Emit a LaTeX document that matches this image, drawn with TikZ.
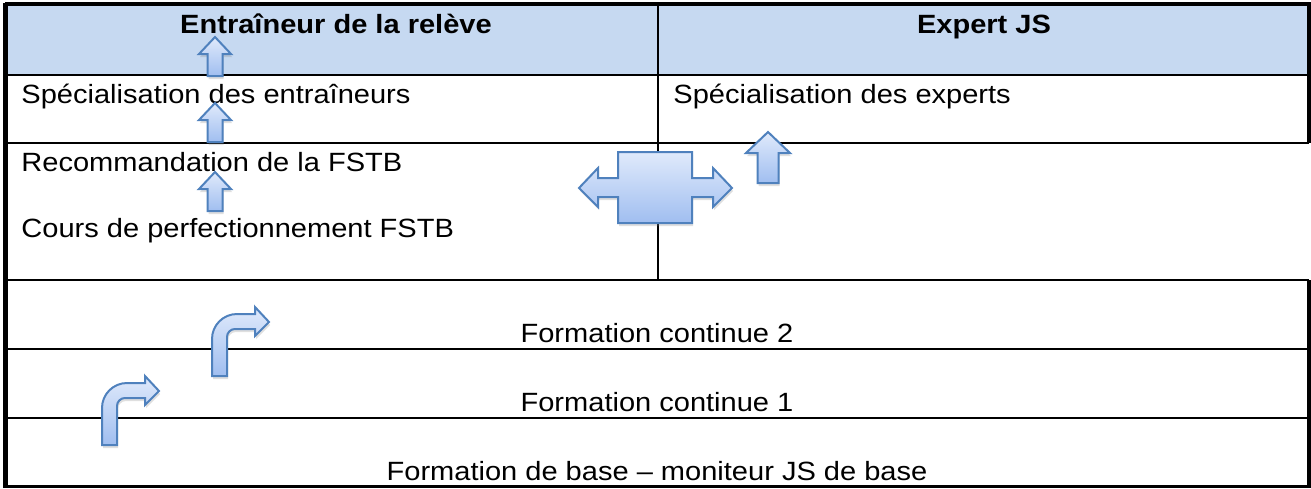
\documentclass[tikz,border=0pt]{standalone}
\usepackage{fontspec}
\setmainfont{Liberation Sans}
\usetikzlibrary{shadows}
\definecolor{headblue}{RGB}{198,217,241}
\definecolor{arrowline}{RGB}{79,129,189}
\definecolor{arrowtop}{RGB}{224,234,251}
\definecolor{arrowbot}{RGB}{160,190,240}

\begin{document}
\begin{tikzpicture}[x=0.5pt, y=-0.5pt,
            innerline/.style={line width=1.2pt},
            outerline/.style={line width=1.6pt},
            txt/.style={font=\fontsize{13.2}{15}\selectfont, inner sep=0pt,
                xscale=1.1, anchor=base west},
            ctxt/.style={txt, anchor=base},
            headtxt/.style={ctxt, font=\fontsize{13.2}{15}\selectfont\bfseries},
            blockarrow/.style={draw=arrowline, line width=1pt,
                top color=arrowtop, bottom color=arrowbot,
                drop shadow={opacity=0.25, shadow xshift=0.5pt, shadow yshift=-1.5pt}}]
            \useasboundingbox (0,0) rectangle (1311,488);
            \fill[headblue] (5,4) rectangle (1309,75);

            % grid of the table
            \draw[innerline] (5,75) -- (1309,75) (5,143) -- (1309,143) (5,280) -- (1309,280)
                (5,349) -- (1309,349) (5,418) -- (1309,418) (658,4) -- (658,280);
            \draw[outerline] (5,4) -- (1309,4) -- (1309,143) (1309,280) -- (1309,486.5) -- (5,486.5);
            \draw[line width=2.2pt] (5.5,3) -- (5.5,488);

            \node[headtxt] (releve) at (336,33) {Entraîneur de la relève};
            \node[headtxt] (expert) at (984,33) {Expert JS};
            \node[txt] (specent) at (21,103) {Spécialisation des entraîneurs};
            \node[txt] (specexp) at (673,103) {Spécialisation des experts};
            \node[txt] (recom) at (21,171) {Recommandation de la FSTB};
            \node[txt] (cours) at (21,237) {Cours de perfectionnement FSTB};
            \node[ctxt] (fc2) at (657,342) {Formation continue 2};
            \node[ctxt] (fc1) at (657,411) {Formation continue 1};
            \node[ctxt] (base) at (657,480) {Formation de base – moniteur JS de base};

            % arrows
            \foreach \t in {37,103,172}
                \draw[blockarrow] (215,\t) -- ++(16,17) -- ++(-8.5,0) -- ++(0,22)
                    -- ++(-15,0) -- ++(0,-22) -- ++(-8.5,0) -- cycle;
            \draw[blockarrow] (768,132) -- ++(22,21) -- ++(-11.5,0) -- ++(0,30)
                -- ++(-21,0) -- ++(0,-30) -- ++(-11.5,0) -- cycle;
            \draw[blockarrow] (579,188) -- (598,168) -- (598,178) -- (618,178) -- (618,152)
                -- (692,152) -- (692,178) -- (713,178) -- (713,168) -- (732,188) -- (713,207)
                -- (713,197) -- (692,197) -- (692,223) -- (618,223) -- (618,197) -- (598,197)
                -- (598,207) -- cycle;
            \foreach \p in {(102,445),(212,376)}
                \draw[blockarrow, shift={\p}] (0,0) -- (0,-37)
                    .. controls (0,-50.8) and (11.2,-62) .. (25,-62) -- (43,-62) -- (43,-69)
                    -- (57,-54) -- (43,-40) -- (43,-47) -- (23,-47)
                    .. controls (18.6,-47) and (15,-43.4) .. (15,-39) -- (15,0) -- cycle;
        \end{tikzpicture}
\end{document}
